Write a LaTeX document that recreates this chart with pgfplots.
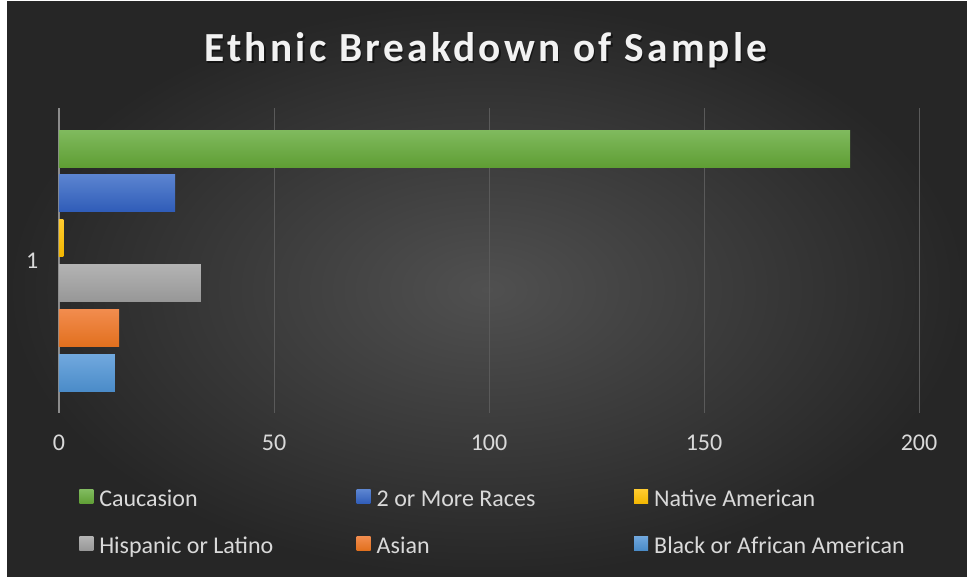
\documentclass[border=0pt]{standalone}
\usepackage{pgfplots}
\pgfplotsset{compat=1.18}
\usepackage{fontspec}
\setmainfont{Carlito}
\definecolor{bgin}{HTML}{505050}
\definecolor{bgout}{HTML}{262626}
\definecolor{txt}{HTML}{D9D9D9}
\definecolor{gridc}{HTML}{5A5A5A}
\definecolor{zeroc}{HTML}{8C8C8C}
\definecolor{gT}{HTML}{80BA5E}\definecolor{gB}{HTML}{5F9E34}
\definecolor{bT}{HTML}{5B84D0}\definecolor{bB}{HTML}{2F5CB8}
\definecolor{yT}{HTML}{FFCB2E}\definecolor{yB}{HTML}{F2B600}
\definecolor{hT}{HTML}{B3B3B3}\definecolor{hB}{HTML}{979797}
\definecolor{oT}{HTML}{F28C4E}\definecolor{oB}{HTML}{E2701E}
\definecolor{lT}{HTML}{70A8DE}\definecolor{lB}{HTML}{4A8BC8}
\newcommand\LE[1]{\makebox[197.6pt][l]{\hspace{4.5pt}\strut#1}}
\begin{document}
\begin{tikzpicture}
\begin{scope}[x=0.75pt,y=0.75pt]
\path (0,0) rectangle (967,577);
\shade[inner color=bgin, outer color=bgout] (7,0) rectangle (967,575);
\node[anchor=base, font=\fontsize{31}{36}\selectfont\bfseries\addfontfeatures{LetterSpace=8}, text=black, opacity=0.5] at (487.5,513.5) {Ethnic Breakdown of Sample};
\node[anchor=base, font=\fontsize{31}{36}\selectfont\bfseries\addfontfeatures{LetterSpace=8}, text=white!95!black] at (486,515) {Ethnic Breakdown of Sample};
\end{scope}
\begin{axis}[
  at={(44.25pt,123pt)}, anchor=south west,
  scale only axis, width=645pt, height=228.75pt,
  xmin=0, xmax=200, ymin=0.5, ymax=1.5,
  xtick={50,100,150,200}, ytick={1},
  extra x ticks={0},
  extra x tick style={grid style={draw=zeroc, line width=1.5pt}},
  xmajorgrids, grid style={draw=gridc, line width=0.75pt},
  major tick length=0pt,
  axis line style={draw=none},
  /pgf/number format/assume math mode=true,
  tick label style={font=\fontsize{18}{21.6}\selectfont, text=txt},
  xticklabel style={yshift=-12.75pt},
  yticklabel style={xshift=-12pt},
  xbar, bar width=0.1213,
  legend columns=3,
  legend cell align=left,
  legend style={at={(axis description cs:0.02326,-0.2412)}, anchor=north west,
    draw=none, fill=none, inner sep=0pt, row sep=18.15pt,
    nodes={inner sep=0pt},
    font=\fontsize{18}{21.6}\selectfont, text=txt},
  legend image code/.code={\fill[#1] (0pt,-4.5pt) rectangle (10.5pt,6pt);},
]
\addplot[draw=none, top color=gT, bottom color=gB, bar shift=0.367] coordinates {(184,1)};
\addplot[draw=none, top color=bT, bottom color=bB, bar shift=0.220] coordinates {(27,1)};
\addplot[draw=none, top color=yT, bottom color=yB, bar shift=0.073] coordinates {(1,1)};
\addplot[draw=none, top color=hT, bottom color=hB, bar shift=-0.074] coordinates {(33,1)};
\addplot[draw=none, top color=oT, bottom color=oB, bar shift=-0.221] coordinates {(14,1)};
\addplot[draw=none, top color=lT, bottom color=lB, bar shift=-0.370] coordinates {(13,1)};
\legend{\LE{Caucasion},\LE{2 or More Races},\LE{Native American},\LE{Hispanic or Latino},\LE{Asian},\LE{Black or African American}}
\end{axis}
\end{tikzpicture}
\end{document}
